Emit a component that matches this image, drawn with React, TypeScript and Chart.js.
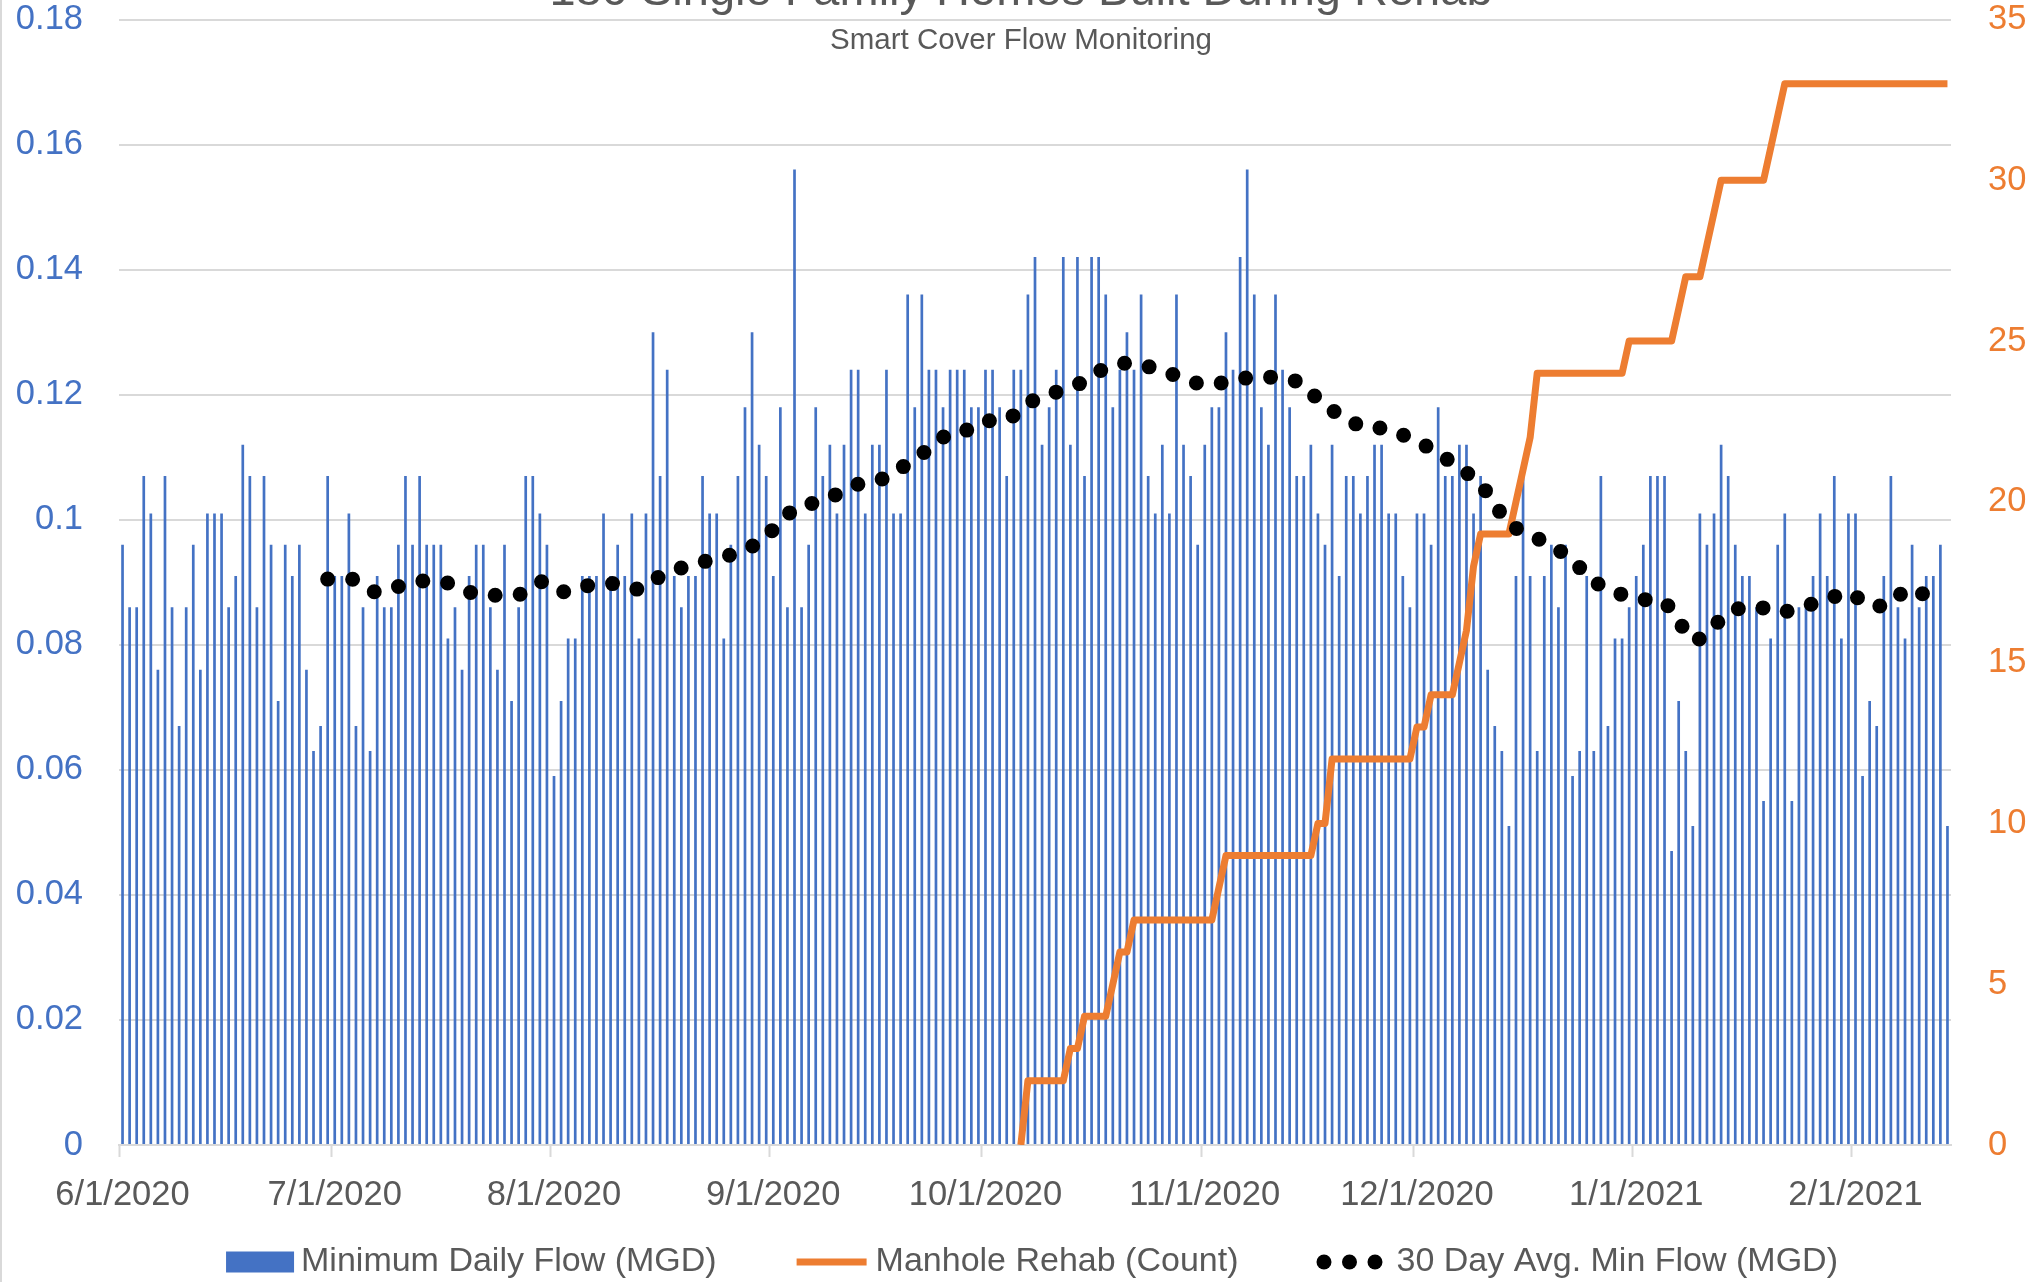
import React, { useEffect, useRef } from 'react';
import { Chart, registerables } from 'chart.js';

Chart.register(...registerables);

// ---- Data ----
const titleText = '180 Single Family Homes Built During Rehab';
const subtitleText = 'Smart Cover Flow Monitoring';
const legendLabels = ['Minimum Daily Flow (MGD)', 'Manhole Rehab (Count)', '30 Day Avg. Min Flow (MGD)'];

// daily values, day 0 = 6/1/2020 ... day 258 = 2/14/2021
const minDailyFlow = [
  0.096, 0.086, 0.086, 0.107, 0.101, 0.076, 0.107, 0.086, 0.067, 0.086,
  0.096, 0.076, 0.101, 0.101, 0.101, 0.086, 0.091, 0.112, 0.107, 0.086,
  0.107, 0.096, 0.071, 0.096, 0.091, 0.096, 0.076, 0.063, 0.067, 0.107,
  0.091, 0.091, 0.101, 0.067, 0.086, 0.063, 0.091, 0.086, 0.086, 0.096,
  0.107, 0.096, 0.107, 0.096, 0.096, 0.096, 0.081, 0.086, 0.076, 0.091,
  0.096, 0.096, 0.086, 0.076, 0.096, 0.071, 0.086, 0.107, 0.107, 0.101,
  0.096, 0.059, 0.071, 0.081, 0.081, 0.091, 0.091, 0.091, 0.101, 0.091,
  0.096, 0.091, 0.101, 0.081, 0.101, 0.130, 0.107, 0.124, 0.091, 0.086,
  0.091, 0.091, 0.107, 0.101, 0.101, 0.081, 0.096, 0.107, 0.118, 0.130,
  0.112, 0.107, 0.091, 0.118, 0.086, 0.156, 0.086, 0.096, 0.118, 0.107,
  0.112, 0.101, 0.112, 0.124, 0.124, 0.101, 0.112, 0.112, 0.124, 0.101,
  0.101, 0.136, 0.118, 0.136, 0.124, 0.124, 0.118, 0.124, 0.124, 0.124,
  0.118, 0.118, 0.124, 0.124, 0.118, 0.107, 0.124, 0.124, 0.136, 0.142,
  0.112, 0.118, 0.124, 0.142, 0.112, 0.142, 0.107, 0.142, 0.142, 0.136,
  0.118, 0.124, 0.130, 0.124, 0.136, 0.107, 0.101, 0.112, 0.101, 0.136,
  0.112, 0.107, 0.096, 0.112, 0.118, 0.118, 0.130, 0.124, 0.142, 0.156,
  0.136, 0.118, 0.112, 0.136, 0.124, 0.118, 0.107, 0.107, 0.112, 0.101,
  0.096, 0.112, 0.091, 0.107, 0.107, 0.101, 0.107, 0.112, 0.112, 0.101,
  0.101, 0.091, 0.086, 0.101, 0.101, 0.096, 0.118, 0.107, 0.107, 0.112,
  0.112, 0.101, 0.107, 0.076, 0.067, 0.063, 0.051, 0.091, 0.107, 0.091,
  0.063, 0.091, 0.096, 0.086, 0.096, 0.059, 0.063, 0.091, 0.063, 0.107,
  0.067, 0.081, 0.081, 0.086, 0.091, 0.096, 0.107, 0.107, 0.107, 0.047,
  0.071, 0.063, 0.051, 0.101, 0.096, 0.101, 0.112, 0.107, 0.096, 0.091,
  0.091, 0.086, 0.055, 0.081, 0.096, 0.101, 0.055, 0.086, 0.086, 0.091,
  0.101, 0.091, 0.107, 0.081, 0.101, 0.101, 0.059, 0.071, 0.067, 0.091,
  0.107, 0.086, 0.081, 0.096, 0.086, 0.091, 0.091, 0.096, 0.051,
];

// cumulative manhole rehab count, daily from day 127 (10/6/2020)
const rehabStartDay = 127;
const manholeRehab = [
  0, 2, 2, 2, 2, 2, 2, 3, 3, 4, 4, 4, 4, 5, 6, 6,
  7, 7, 7, 7, 7, 7, 7, 7, 7, 7, 7, 7, 8,
  9, 9, 9, 9, 9, 9, 9, 9, 9, 9, 9, 9, 9, 10, 10,
  12, 12, 12, 12, 12, 12, 12, 12, 12, 12, 12, 12, 13, 13,
  14, 14, 14, 14, 15, 16, 18, 19, 19, 19, 19, 19, 20, 21, 22,
  24, 24, 24, 24, 24, 24, 24, 24, 24, 24, 24, 24, 24,
  25, 25, 25, 25, 25, 25, 25, 26, 27, 27, 27, 28, 29,
  30, 30, 30, 30, 30, 30, 30, 31, 32,
  33, 33, 33, 33, 33, 33, 33, 33, 33, 33, 33, 33, 33, 33, 33, 33, 33, 33, 33, 33, 33, 33, 33, 33,
];

// 30-day average: days (from 6/1/2020) and values
const avgDays = [
  29.0, 32.5, 35.7, 39.3, 42.9, 46.5, 49.7, 53.2, 56.5, 59.4, 62.5, 65.9, 69.5, 73.1,
  76.2, 79.5, 82.9, 86.5, 89.9, 92.6, 95.0, 98.5, 101.9, 104.7, 108.0, 110.9, 114.0,
  116.9, 120.6, 123.7, 126.0, 129.0, 132.5, 135.6, 138.6, 141.9, 145.4, 148.8, 152.2,
  155.8, 159.4, 162.9, 166.3, 169.1, 172.1, 175.3, 178.8, 182.2, 185.6, 188.6, 191.7,
  193.8, 195.8, 199.1, 202.3, 205.2, 207.8, 210.8, 214.5, 218.1, 220.2, 222.5, 225.3,
  227.9, 231.3, 234.4, 237.6, 240.7, 244.2, 246.9, 249.4, 252.3, 255.9,
];
const avgFlow = [
  0.0905, 0.0905, 0.0884, 0.0894, 0.0903, 0.0898, 0.0881, 0.0879, 0.0881, 0.0902, 0.0884, 0.0895, 0.0898, 0.0888,
  0.0911, 0.0925, 0.0935, 0.0945, 0.0962, 0.0991, 0.1019, 0.1029, 0.1045, 0.1061, 0.1066, 0.1089, 0.1113,
  0.1140, 0.1145, 0.1166, 0.1166, 0.1193, 0.1206, 0.1219, 0.1241, 0.1251, 0.1244, 0.1231, 0.1217,
  0.1219, 0.1228, 0.1228, 0.1221, 0.1192, 0.1166, 0.1148, 0.1146, 0.1130, 0.1110, 0.1086, 0.1062,
  0.1029, 0.0993, 0.0975, 0.0958, 0.0933, 0.0902, 0.0884, 0.0873, 0.0869, 0.0833, 0.0805, 0.0834,
  0.0857, 0.0861, 0.0851, 0.0860, 0.0873, 0.0884, 0.0862, 0.0862, 0.0890, 0.0876,
];

const monthStartDays = [0, 30, 61, 92, 122, 153, 183, 214, 245];
const monthLabels = ['6/1/2020', '7/1/2020', '8/1/2020', '9/1/2020', '10/1/2020', '11/1/2020', '12/1/2020', '1/1/2021', '2/1/2021'];
const leftTickLabels = ['0', '0.02', '0.04', '0.06', '0.08', '0.1', '0.12', '0.14', '0.16', '0.18'];
const rightTickLabels = ['0', '5', '10', '15', '20', '25', '30', '35'];
const totalDays = 259;

const BLUE = '#4472C4';
const ORANGE = '#ED7D31';
const GRID = '#D9D9D9';
const TEXT = '#595959';
const FONT = '"Liberation Sans", Arial, sans-serif';

export default function App() {
  const canvasRef = useRef<HTMLCanvasElement | null>(null);

  useEffect(() => {
    document.body.style.margin = '0';
    document.body.style.overflow = 'hidden';
    const canvas = canvasRef.current;
    if (!canvas) return;

    const decor = {
      id: 'decor',
      beforeDraw(chart: any) {
        const { ctx, width, height } = chart;
        ctx.save();
        ctx.fillStyle = '#ffffff';
        ctx.fillRect(0, 0, width, height);
        ctx.strokeStyle = GRID;
        ctx.lineWidth = 2;
        ctx.beginPath();
        ctx.moveTo(1, 0);
        ctx.lineTo(1, height);
        ctx.stroke();
        ctx.restore();
      },
      afterDraw(chart: any) {
        const { ctx } = chart;
        ctx.save();
        // title (cut off at the top, as in the reference)
        ctx.fillStyle = TEXT;
        ctx.textAlign = 'center';
        ctx.textBaseline = 'alphabetic';
        ctx.font = `47px ${FONT}`;
        ctx.fillText(titleText, 1021, 5);
        ctx.font = `29.5px ${FONT}`;
        ctx.fillText(subtitleText, 1021, 49);

        // legend
        const cy = 1262;
        ctx.font = `34px ${FONT}`;
        const w = legendLabels.map((t) => ctx.measureText(t).width);
        const boxW = 68, boxH = 21, lineW = 70, dotsW = 66;
        const total = boxW + 7 + w[0] + 80 + lineW + 9 + w[1] + 78 + dotsW + 14 + w[2];
        let x = 1032 - total / 2;
        ctx.fillStyle = BLUE;
        ctx.fillRect(x, cy - boxH / 2, boxW, boxH);
        x += boxW + 7;
        ctx.fillStyle = TEXT;
        ctx.textAlign = 'left';
        ctx.textBaseline = 'middle';
        ctx.fillText(legendLabels[0], x, cy);
        x += w[0] + 80;
        ctx.strokeStyle = ORANGE;
        ctx.lineWidth = 7;
        ctx.beginPath();
        ctx.moveTo(x, cy);
        ctx.lineTo(x + lineW, cy);
        ctx.stroke();
        x += lineW + 9;
        ctx.fillText(legendLabels[1], x, cy);
        x += w[1] + 78;
        ctx.fillStyle = '#000000';
        for (let i = 0; i < 3; i++) {
          ctx.beginPath();
          ctx.arc(x + 7.5 + i * 25.5, cy, 7.5, 0, Math.PI * 2);
          ctx.fill();
        }
        x += dotsW + 14;
        ctx.fillStyle = TEXT;
        ctx.fillText(legendLabels[2], x, cy);
        ctx.restore();
      },
    };

    const tickFont = { family: FONT, size: 34.5, lineHeight: 1.2 };

    const chart = new Chart(canvas, {
      type: 'bar',
      data: {
        datasets: [
          {
            type: 'line',
            label: legendLabels[2],
            data: avgDays.map((d, k) => ({ x: d + 0.5, y: avgFlow[k] })),
            borderColor: '#000000',
            backgroundColor: '#000000',
            borderWidth: 15,
            borderDash: [0, 25],
            borderCapStyle: 'round',
            pointRadius: 0,
            pointHoverRadius: 0,
            fill: false,
            tension: 0,
            yAxisID: 'y',
            order: 1,
          } as any,
          {
            type: 'line',
            label: legendLabels[1],
            data: manholeRehab.map((c, k) => ({ x: rehabStartDay + k + 0.5, y: c })),
            borderColor: ORANGE,
            backgroundColor: ORANGE,
            borderWidth: 7,
            borderJoinStyle: 'round',
            pointRadius: 0,
            pointHoverRadius: 0,
            fill: false,
            tension: 0,
            yAxisID: 'y1',
            order: 2,
          } as any,
          {
            type: 'bar',
            label: legendLabels[0],
            data: minDailyFlow.map((v, i) => ({ x: i + 0.5, y: v })),
            backgroundColor: BLUE,
            borderWidth: 0,
            barPercentage: 0.38,
            categoryPercentage: 1,
            yAxisID: 'y',
            order: 3,
          } as any,
        ],
      },
      options: {
        responsive: false,
        animation: false,
        devicePixelRatio: 1,
        events: [],
        layout: { padding: { top: 19.5, bottom: 67, left: 0, right: 0 } },
        plugins: {
          legend: { display: false },
          title: { display: false },
          tooltip: { enabled: false },
        },
        scales: {
          x: {
            type: 'linear',
            min: 0,
            max: totalDays,
            offset: false,
            grid: {
              offset: false,
              drawOnChartArea: false,
              drawTicks: true,
              tickLength: 12,
              tickColor: GRID,
              tickWidth: 2,
            },
            border: { display: true, color: GRID, width: 2 },
            afterBuildTicks: (s: any) => {
              s.ticks = monthStartDays.map((v) => ({ value: v }));
            },
            afterFit: (s: any) => {
              s.height = 70;
              s.paddingLeft = 0;
              s.paddingRight = 0;
            },
            ticks: {
              autoSkip: false,
              maxRotation: 0,
              minRotation: 0,
              padding: 17.5,
              labelOffset: 3.5,
              color: TEXT,
              font: tickFont,
              callback: (_v: any, i: number) => monthLabels[i],
            },
          },
          y: {
            type: 'linear',
            position: 'left',
            min: 0,
            max: 0.18,
            grid: { color: GRID, lineWidth: 2, drawTicks: false },
            border: { display: false },
            afterFit: (s: any) => {
              s.width = 119;
              s.paddingTop = 0;
              s.paddingBottom = 0;
            },
            ticks: {
              stepSize: 0.02,
              padding: 36,
              color: BLUE,
              font: tickFont,
              callback: (_v: any, i: number) => leftTickLabels[i],
            },
          },
          y1: {
            type: 'linear',
            position: 'right',
            min: 0,
            max: 35,
            grid: { drawOnChartArea: false, drawTicks: false },
            border: { display: false },
            afterFit: (s: any) => {
              s.width = 85;
              s.paddingTop = 0;
              s.paddingBottom = 0;
            },
            ticks: {
              stepSize: 5,
              padding: 37,
              color: ORANGE,
              font: tickFont,
              callback: (_v: any, i: number) => rightTickLabels[i],
            },
          },
        },
      } as any,
      plugins: [decor],
    });

    return () => chart.destroy();
  }, []);

  return (
    <canvas
      ref={canvasRef}
      width={2036}
      height={1282}
      style={{ display: 'block', width: '2036px', height: '1282px' }}
    />
  );
}
